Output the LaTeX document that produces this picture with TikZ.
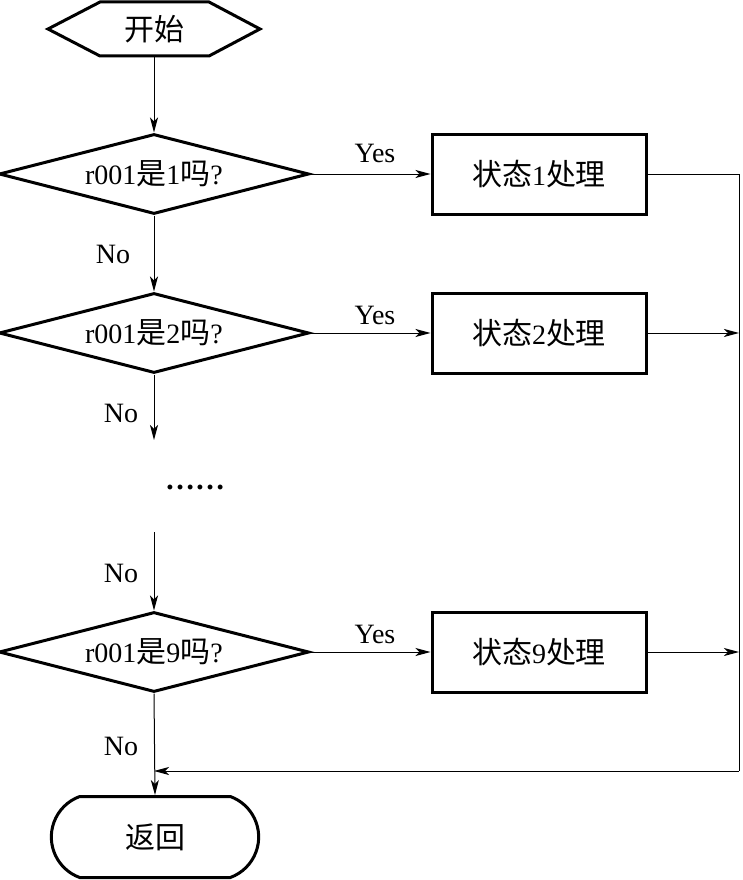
\documentclass[tikz,border=0pt]{standalone}
\usepackage{fontspec}
\setmainfont{Liberation Serif}
\newfontfamily\cjk[Scale=1.07]{Noto Sans CJK SC}
\usetikzlibrary{shapes.geometric,shapes.misc,arrows.meta}
\begin{document}
\begin{tikzpicture}[x=1pt,y=-1pt,
  font=\fontsize{28}{32}\selectfont,
  thickshape/.style={draw, line width=3pt},
  dec/.style={thickshape, diamond, shape aspect=3.9, minimum width=310pt, minimum height=80pt, inner sep=0pt},
  proc/.style={thickshape, rectangle, minimum width=214pt, minimum height=80pt},
  term/.style={thickshape, rounded rectangle, rounded rectangle arc length=140, minimum width=214pt, minimum height=81pt},
  conn/.style={line width=1pt},
  arr/.style={conn, -{Stealth[length=15pt,width=8pt,inset=4pt]}},
  lab/.style={inner sep=0pt}]
\useasboundingbox (0,0) rectangle (742,880);
% start
\node (start) at (154,29) [minimum width=212pt, minimum height=54pt, inner sep=0pt] {{\cjk 开始}};
\draw[thickshape] (48,29) -- (100,2) -- (209,2) -- (260,29) -- (209,56) -- (100,56) -- cycle;
% decisions
\node[dec] (d1) at (154,174) {r001{\cjk 是}1{\cjk 吗}?};
\node[dec] (d2) at (154,333) {r001{\cjk 是}2{\cjk 吗}?};
\node[dec] (d9) at (154,652) {r001{\cjk 是}9{\cjk 吗}?};
% processes
\node[proc] (b1) at (539,174) {{\cjk 状态}1{\cjk 处理}};
\node[proc] (b2) at (539,333) {{\cjk 状态}2{\cjk 处理}};
\node[proc] (b9) at (539,652) {{\cjk 状态}9{\cjk 处理}};
% return
\node[term] (ret) at (155,837) {{\cjk 返回}};
% dots
\node[lab] (dots) at (195,487) {\fontsize{30}{32}\selectfont\bfseries ……};
% coordinates
\coordinate (c2) at (154,440);
\coordinate (c3) at (154,532);
\coordinate (r1) at (739,174);
\coordinate (r2) at (739,333);
\coordinate (r9) at (739,652);
\coordinate (rc) at (739,771);
\coordinate (jn) at (154,771);
% labels
\node[lab] (y1) at (375,153) {Yes};
\node[lab] (y2) at (375,315) {Yes};
\node[lab] (y9) at (375,634) {Yes};
\node[lab] (n1) at (113,254) {No};
\node[lab] (n2) at (121,413) {No};
\node[lab] (n3) at (121,573) {No};
\node[lab] (n9) at (121,746) {No};
% connectors
\draw[arr] (start.south) -- (d1.north);
\draw[arr] (d1.south) -- (d2.north);
\draw[arr] (d2.south) -- (c2);
\draw[arr] (c3) -- (d9.north);
\draw[arr] (d9.south) -- (ret.north);
\draw[arr] (d1.east) -- (b1.west);
\draw[arr] (d2.east) -- (b2.west);
\draw[arr] (d9.east) -- (b9.west);
\draw[conn] (b1.east) -- (r1) -- (rc);
\draw[arr] (rc) -- (jn);
\draw[arr] (b2.east) -- (r2);
\draw[arr] (b9.east) -- (r9);
\end{tikzpicture}
\end{document}
